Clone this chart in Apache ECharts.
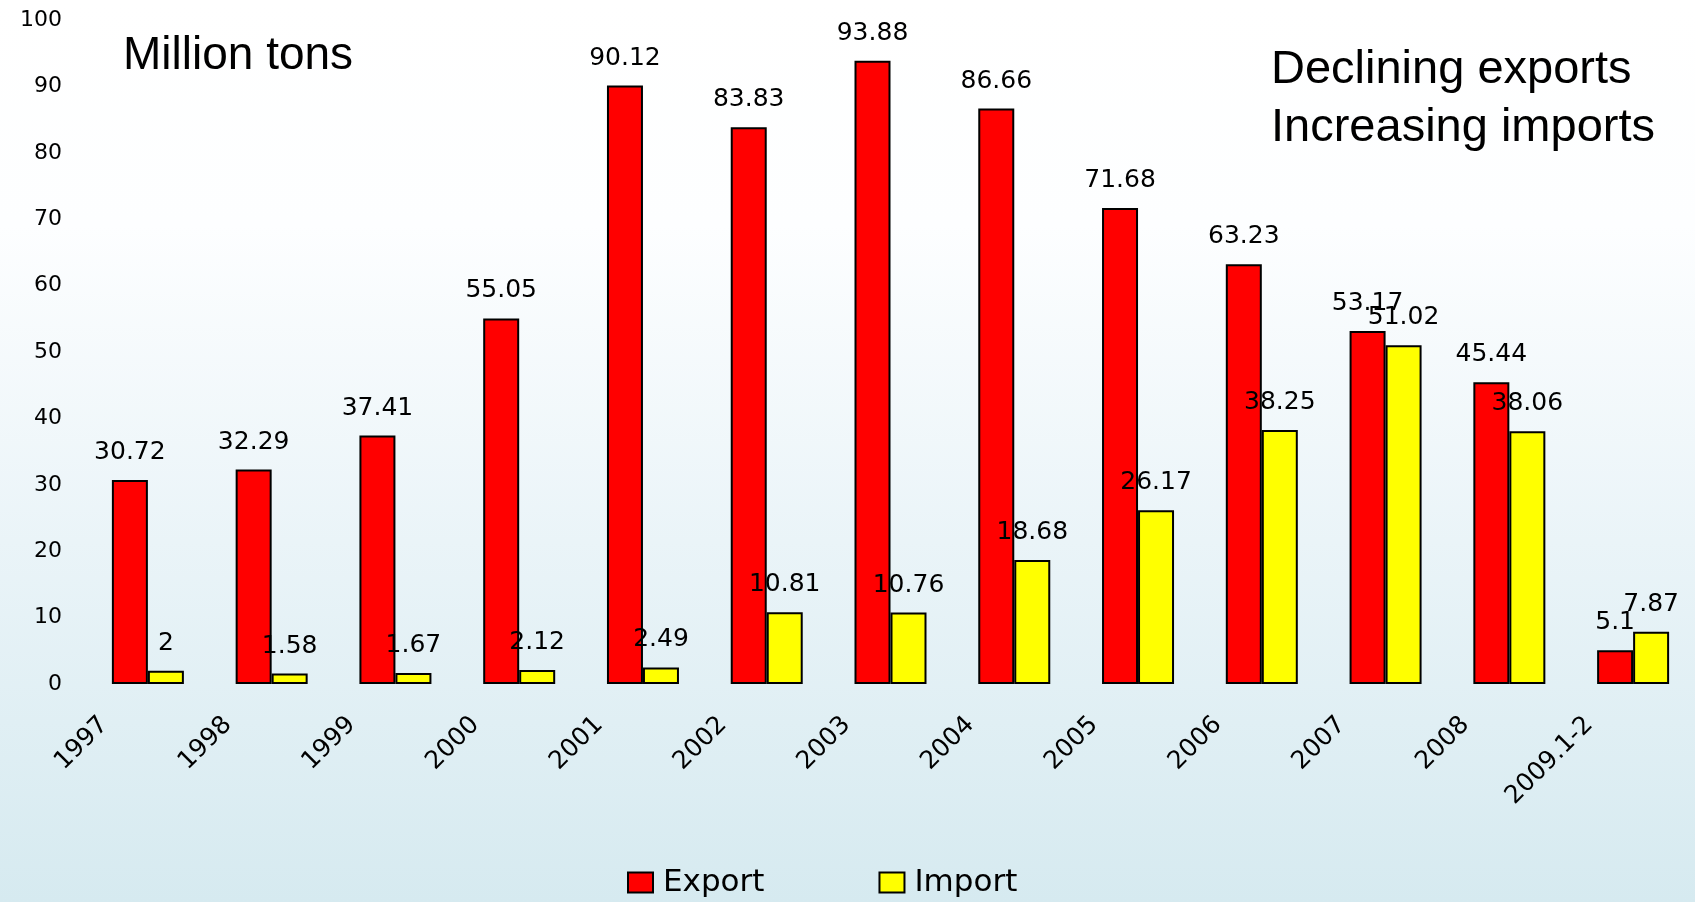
<!DOCTYPE html>
<html>
<head>
<meta charset="utf-8">
<script src="https://cdn.jsdelivr.net/npm/echarts@6/dist/echarts.min.js"></script>
<style>
html,body{margin:0;padding:0;}
#chart{width:1695px;height:902px;}
</style>
</head>
<body>
<div id="chart"></div>
<script>
var categories = ['1997','1998','1999','2000','2001','2002','2003','2004','2005','2006','2007','2008','2009.1-2'];
var exportValues = [30.72, 32.29, 37.41, 55.05, 90.12, 83.83, 93.88, 86.66, 71.68, 63.23, 53.17, 45.44, 5.1];
var importValues = [2, 1.58, 1.67, 2.12, 2.49, 10.81, 10.76, 18.68, 26.17, 38.25, 51.02, 38.06, 7.87];
var yMin = 0, yMax = 100, yStep = 10;

var chart = echarts.init(document.getElementById('chart'));
var labelFont = 'DejaVu Sans';
var option = {
  animation: false,
  backgroundColor: {
    type: 'linear', x: 0, y: 0, x2: 0, y2: 1,
    colorStops: [
      {offset: 0, color: '#ffffff'},
      {offset: 0.25, color: '#fdfeff'},
      {offset: 0.6, color: '#eaf4f8'},
      {offset: 1, color: '#d6eaf0'}
    ]
  },
  title: [
    {text: 'Million tons', left: 118, top: 28,
     textStyle: {fontFamily: 'Liberation Sans', fontSize: 46, fontWeight: 'normal', color: '#000', lineHeight: 46}},
    {text: 'Declining exports\nIncreasing imports', left: 1266, top: 36,
     textStyle: {fontFamily: 'Liberation Sans', fontSize: 47, fontWeight: 'normal', color: '#000', lineHeight: 58}}
  ],
  legend: {
    left: 627, top: 867, padding: 0,
    itemWidth: 25, itemHeight: 20, itemGap: 114,
    icon: 'rect',
    textStyle: {fontFamily: labelFont, fontSize: 31, color: '#000', padding: [0, 0, 0, 5]},
    data: ['Export', 'Import']
  },
  grid: {left: 86, top: 20, width: 1617, height: 664, containLabel: false},
  xAxis: {
    type: 'category',
    data: categories,
    axisLine: {show: false},
    axisTick: {show: false},
    axisLabel: {
      interval: 0, rotate: 45, margin: -7,
      fontFamily: labelFont, fontSize: 25, color: '#000',
      padding: [0, 62, 0, 0]
    }
  },
  yAxis: {
    type: 'value', min: yMin, max: yMax, interval: yStep,
    axisLine: {show: false},
    axisTick: {show: false},
    splitLine: {show: false},
    axisLabel: {margin: 24, fontFamily: labelFont, fontSize: 22, color: '#000'}
  },
  series: [
    {
      name: 'Export', type: 'bar', data: exportValues,
      barWidth: 36, barGap: '0%',
      itemStyle: {color: '#ff0000', borderColor: '#000', borderWidth: 2},
      label: {show: true, position: 'top', distance: 15, fontFamily: labelFont, fontSize: 25, color: '#000'}
    },
    {
      name: 'Import', type: 'bar', data: importValues,
      barWidth: 36, barGap: '0%',
      itemStyle: {color: '#ffff00', borderColor: '#000', borderWidth: 2},
      label: {show: true, position: 'top', distance: 15, fontFamily: labelFont, fontSize: 25, color: '#000'}
    }
  ]
};
chart.setOption(option);
</script>
</body>
</html>
